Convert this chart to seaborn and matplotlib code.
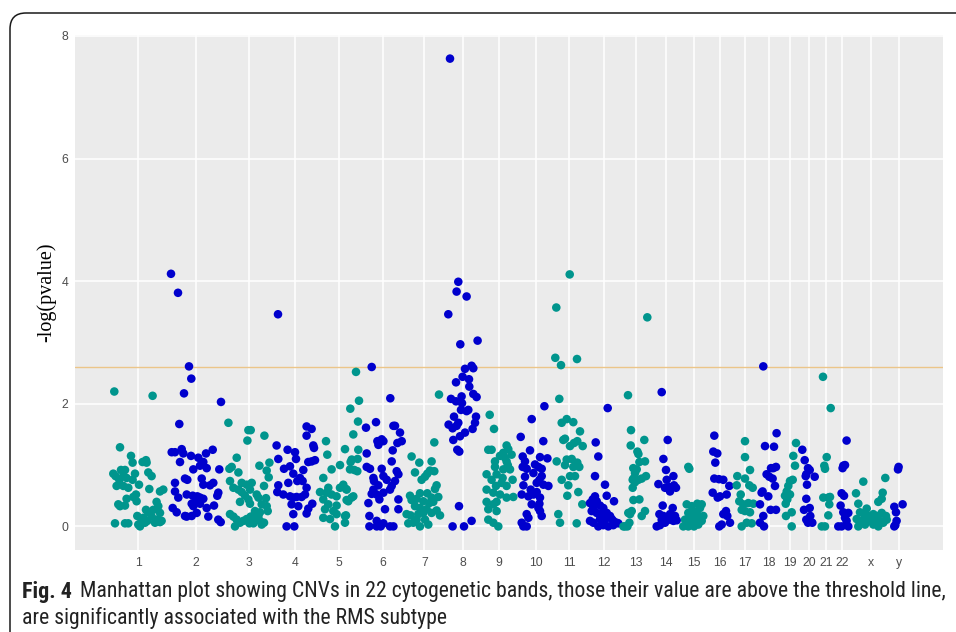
import matplotlib
matplotlib.use("Agg")
import matplotlib.pyplot as plt
import seaborn as sns
import pandas as pd
from matplotlib import font_manager
from matplotlib.patches import FancyBboxPatch

# ---------------- data ----------------
chrom_labels = ['1', '2', '3', '4', '5', '6', '7', '8', '9', '10', '11', '12',
                '13', '14', '15', '16', '17', '18', '19', '20', '21', '22', 'x', 'y']
# cumulative genomic position of each band centre (arbitrary units)
chrom_centers = [63.3, 121.0, 173.7, 220.3, 264.3, 307.7, 349.3, 388.3, 424.3, 460.7,
                 494.0, 529.0, 560.7, 590.7, 619.0, 645.0, 670.0, 694.3, 715.0, 734.0,
                 751.0, 767.3, 796.0, 824.3]
threshold = 2.6

# (offset from band centre, -log(pvalue))
chr1 = [(-24, 2.2), (14.3, 2.13), (-18.3, 1.29), (-7.3, 1.15), (7.7, 1.08), (8.3, 1.04), (-5.7, 1.04), (4.3, 1.05),
        (-25, .86), (-22.7, .82), (-17.3, .92), (-13.3, .92), (-15, .82), (-3.3, .86), (-19, .76), (-11.7, .79),
        (-5.7, .76), (10, .88), (13.3, .82), (-21.7, .66), (-15, .66), (-10, .63), (0.7, .68), (11, .61), (25, .60),
        (21.7, .57), (-2.3, .52), (-5, .48), (-11.7, .45), (-20, .36), (-18.3, .33), (-13.3, .34), (-1.7, .41),
        (18.3, .40), (20, .33), (7.7, .27), (10, .23), (15, .27), (21.7, .22), (-1, .17), (5, .14), (13.3, .16),
        (18.3, .11), (23.3, .09), (3.3, .10), (9, .09), (16.7, .06), (21.7, .07), (-23.3, .05), (-13.3, .05),
        (-10, .05), (0, .03), (1.7, 0), (6.7, .06)]
chr2 = [(-25, 4.12), (-18, 3.81), (-7, 2.61), (-4.7, 2.41), (-12, 2.17), (25, 2.03), (-16.7, 1.67),
        (-24.3, 1.21), (-21, 1.21), (-14.3, 1.26), (-12.7, 1.19), (-5, 1.15), (2.3, 1.12), (10, 1.19), (16.7, 1.25),
        (-16, 1.05), (7.3, 1.05), (4, .99), (-2.7, .93), (10.7, .95), (23.3, .93), (-21, .71), (-11, .78),
        (-8.7, .76), (5.7, .78), (7.3, .68), (17.3, .71), (14, .67), (22.3, .55), (21.3, .50), (-21, .57),
        (-17.7, .47), (-9.3, .52), (-3.3, .50), (1.3, .49), (4, .47), (7.3, .45), (0, .41), (-4.3, .37),
        (-2.7, .33), (4, .37), (10.7, .30), (18, .34), (-23.3, .30), (-19.3, .23), (-11, .17), (-9.3, .16),
        (-4.3, .17), (0.7, .22), (12.3, .16), (22.3, .11), (24.7, .07)]
chr3 = [(-20.3, 1.69), (-0.3, 1.57), (2, 1.57), (-1.3, 1.40), (15.7, 1.48), (20.7, 1.04), (10.7, .99), (-12, 1.12),
        (-19.3, .94), (-17, .97), (18, .91), (20, .80), (-10.3, .88), (-18.7, .74), (-7, .71), (-2, .68), (3, .71),
        (15.3, .66), (-15.3, .63), (-10.3, .60), (-7, .56), (1.3, .60), (8, .52), (-3.7, .50), (-0.3, .44),
        (9.7, .47), (17.3, .46), (-8.7, .40), (1.3, .37), (13, .36), (18, .33), (19, .25), (-18.7, .20),
        (-15.3, .16), (-12, .11), (-8.7, .06), (-13.7, 0), (-2, .12), (2, .16), (6.3, .20), (8, .11), (11.3, .09),
        (13, .03), (15.3, .06), (4.7, .05), (9.7, .17), (-5.3, .09), (0.7, .05), (11.3, .23), (6.3, .25)]
chr4 = [(-17.3, 3.46), (-18.7, 1.32), (-17, 1.10), (-7.7, 1.25), (-0.3, 1.21), (0.7, 1.10), (11.3, 1.63),
        (16.3, 1.59), (11.3, 1.48), (18, 1.32), (18.7, 1.28), (19.7, 1.08), (16.3, 1.06), (13, 1.05), (8, .92),
        (-11.3, .94), (-5.3, .98), (-2, .86), (4.7, .79), (2, .74), (7.3, .74), (11.3, .63), (-17, .67), (-7, .71),
        (-18, .56), (-12, .52), (-5.3, .49), (-2, .47), (1.3, .48), (6.3, .48), (9.7, .52), (-3.7, .36), (3, .33),
        (13, .29), (11.3, .21), (-2, .20), (-8.7, 0), (-1, 0), (17, .37)]
chr5 = [(16.7, 2.52), (19.7, 2.05), (11, 1.92), (18.7, 1.71), (14, 1.50), (-13.3, 1.39), (-12, 1.17), (5.7, 1.26),
        (11.3, 1.05), (18.3, 1.10), (19, 1.25), (12.4, 1.09), (-16, .79), (-7.7, .93), (0.7, 1.0), (10.7, .93),
        (15, .92), (18, .90), (-11, .63), (-12.7, .55), (-7.7, .52), (-2.7, .49), (0.7, .63), (4, .68), (6.7, .61),
        (7.4, .60), (-19.3, .56), (-16, .44), (-11, .36), (-2.7, .34), (7.3, .43), (12.3, .47), (14, .49), (9, .41),
        (-14.3, .28), (-6, .25), (-2.7, .20), (6.7, .18), (5.7, .17), (-16, .14), (-9.3, .12), (5.7, .06), (-4.3, 0)]
chr6 = [(-11, 2.6), (7.6, 2.09), (-16.7, 1.61), (12.3, 1.64), (-6.7, 1.70), (10.7, 1.64), (17.3, 1.53),
        (-1, 1.42), (0.7, 1.39), (-4.3, 1.33), (-5.3, 1.39), (19, 1.39), (14.7, 1.36), (-16, 1.19), (10, 1.24),
        (9, 1.06), (-16, .97), (-12.7, .94), (-1, .94), (14, .90), (15.7, .85), (-9.3, .79), (0.7, .82), (4, .76),
        (12.3, .74), (-8.7, .74), (-4.3, .67), (-9.3, .60), (-11, .53), (-6, .52), (0.7, .55), (7.3, .60), (9, .66),
        (-14.3, .38), (-3.3, .44), (15.7, .44), (2.3, .28), (15.7, .28), (-13.3, .17), (-6, .09), (-13.3, 0),
        (-6, 0), (-2, 0), (0.7, .05), (7.3, 0), (10.7, 0)]
chr7 = [(14.7, 2.15), (10, 1.37), (-12.7, 1.14), (-5, 1.04), (7.3, 1.06), (5.7, .91), (3, .86), (-9.3, .88),
        (10, .90), (0.7, .81), (-2.7, .76), (12.3, .67), (10.7, .61), (-14.3, .50), (-4.3, .54), (3, .54),
        (7.3, .47), (14, .48), (-7.7, .45), (-12.7, .43), (-1, .41), (5, .38), (9, .40), (-9.3, .33), (-4.3, .30),
        (2.3, .28), (12.3, .26), (-17.7, .20), (-13.7, .18), (-6, .20), (-1, .22), (7.3, .22), (15.7, .18),
        (-16, .05), (-11, .06), (-4.3, 0), (4, .03), (-7.7, .11), (0.7, .11)]
chr8 = [(-13.3, 7.63), (-5, 3.99), (-6.7, 3.83), (3.3, 3.75), (-15, 3.46), (-3, 2.97), (14.3, 3.03), (1.7, 2.57),
        (8.3, 2.62), (10, 2.58), (-0.7, 2.44), (5.7, 2.40), (-7.3, 2.35), (6, 2.28), (10, 2.16), (13.3, 2.11),
        (-12.3, 2.08), (-7.3, 2.04), (-1.7, 2.12), (-1.3, 2.01), (-2.3, 1.90), (5, 1.90), (12.7, 1.79), (-9.3, 1.79),
        (-14.7, 1.66), (-10.7, 1.60), (11.7, 1.69), (9.3, 1.59), (-10, 1.41), (-3.3, 1.47), (1.7, 1.53), (-6, 1.25),
        (-4, 1.22), (-6.7, 1.64), (-5, 1.69), (3.3, 1.88), (-4.3, .33), (8.3, .09), (-10.7, 0), (0.7, 0)]
chr9 = [(-9.6, 1.82), (-5.3, 1.59), (-11, 1.25), (-7.7, 1.25), (7.3, 1.32), (9, 1.26), (4, 1.20), (0.7, 1.15),
        (12.3, 1.17), (5.7, 1.12), (-4.3, 1.06), (7.3, 1.06), (-4.3, .97), (10.7, .93), (4, .93), (8.5, 1.0),
        (-12.7, .85), (-2.7, .85), (3.3, .79), (13.3, .76), (-7.7, .76), (2.3, .71), (7.3, .66), (-12.7, .60),
        (-3.3, .66), (-6, .55), (0.7, .52), (-2.7, .40), (-12.7, .40), (7.3, .47), (14, .48), (-6, .36), (-11, .28),
        (-2.7, .25), (-11, .11), (-6, .06), (-1, 0)]
chr10 = [(-15, 1.46), (-4, 1.75), (8.7, 1.96), (-5.7, 1.24), (-13, 1.14), (-10.7, 1.06), (4.3, 1.13), (11.7, 1.11),
         (-13, .97), (-9, .94), (-0.7, 1.01), (2.7, .97), (6, .94), (-2.3, .87), (6, .82), (3.7, .76), (-10.7, .81),
         (1, .71), (-12.3, .67), (7.7, .68), (12.7, .66), (-5, .60), (-2.3, .52), (-7.3, .49), (1, .56), (4.3, .47),
         (-4, .36), (3.7, .37), (-14, .52), (2.7, .30), (4.3, .25), (6, .17), (-9, .20), (-7.3, .14), (-14, .06),
         (-12.3, 0), (-9, 0), (7.6, 1.39)]
chr11 = [(0.7, 4.11), (-12.7, 3.57), (-13.7, 2.75), (-8, 2.63), (8, 2.73), (-9.7, 2.08), (-7.3, 1.69), (-2.3, 1.75),
         (4.3, 1.70), (11, 1.55), (-5.7, 1.41), (8.3, 1.39), (5, 1.36), (1, 1.31), (13.7, 1.31), (-12.3, 1.06),
         (-2.3, 1.09), (2.7, 1.10), (-4, 1.0), (4.3, .97), (10.3, .97), (8.3, 1.04), (-7.3, .76), (1, .82), (6, .82),
         (-0.7, .67), (9.3, .56), (-1.7, .50), (13.3, .36), (-10.7, .20), (-9, .06), (7.7, .05), (-4, 1.43)]
chr12 = [(3.7, 1.93), (-8.3, 1.37), (-5.7, 1.14), (-9, .82), (1, .68), (2.7, .50), (10, .41), (-9, .49),
         (-11.3, .44), (-14, .38), (-7.3, .41), (-4, .34), (-10.7, .31), (-0.7, .30), (-12.3, .25), (-7.3, .22),
         (-2.3, .20), (2.7, .22), (6, .17), (-4, .12), (1, .11), (7.7, .12), (9.3, .09), (12.7, .06), (-14, .09),
         (-10.7, .06), (-5.7, 0), (-0.7, .02), (4.3, 0), (9.3, .02), (14.3, .05)]
chr13 = [(11.6, 3.41), (-7.7, 2.14), (-4.7, 1.57), (8.6, 1.41), (-5, 1.32), (1.7, 1.22), (2.7, 1.18), (9.3, 1.06),
         (3.7, 1.05), (1, .93), (-0.7, .87), (-2.3, .78), (6, .78), (10.3, .82), (-3, .63), (-0.7, .72), (2.7, .76),
         (-2.3, .43), (3.7, .44), (-4, .25), (-5.7, .20), (9.3, .25), (6, .17), (-12.3, 0), (-8.3, 0), (-6.3, .06),
         (-2.4, .95), (-3, .76), (-7.4, .22), (-10.7, 0)]
chr14 = [(-4, 2.19), (2, 1.41), (-2.3, 1.10), (0.3, .92), (7.7, .82), (1, .76), (-7.3, .69), (-0.7, .63), (3.7, .64),
         (8.3, .67), (10.3, .63), (4.3, .57), (-3, .34), (7, .30), (-6.3, .20), (-2.3, .17), (4.3, .20), (9.3, .17),
         (1, .14), (-4, .11), (-9, 0), (-5.7, .02), (-0.7, .06), (4.3, .11), (7.7, .09), (11, .10)]
chr15 = [(-5.7, .97), (-4.7, .94), (-7.3, .36), (-2.3, .33), (3.3, .37), (7.7, .36), (6, .30), (-0.7, .25),
         (-5.7, .22), (2.7, .22), (9.3, .17), (-2.3, .17), (-9, .11), (1, .12), (6, .11), (-4, .06), (4.3, .03),
         (-10.7, 0), (-5.7, 0), (0, 0), (7.7, .09)]
chr16 = [(-5.7, 1.48), (-6.7, 1.22), (-2.7, 1.19), (-4.7, 1.04), (-5.7, .78), (-1, .77), (3.3, .76), (9.3, .66),
         (-7.3, .55), (-2.3, .47), (0, .49), (6.7, .52), (6, .25), (3.3, .20), (7.3, .17), (10, .06), (-0.7, 0),
         (1.7, .03)]
chr17 = [(0, 1.39), (0, 1.13), (5, .92), (-7.7, .82), (0, .78), (4.3, .67), (-8.3, .67), (7.7, .63), (-4.3, .52),
         (-5.7, .41), (-1.7, .36), (3.3, .38), (8.3, .37), (0, .25), (5, .23), (-3.3, .27), (1.7, .06), (6.7, .05),
         (-3.3, 0)]
chr18 = [(-6, 2.61), (7.3, 1.52), (-4.3, 1.31), (4.7, 1.30), (4, .95), (6.7, .97), (1.7, .95), (-2.7, .85), (0, .81),
         (3.3, .78), (5.7, .66), (-6.7, .57), (-7.7, .55), (-1, .49), (-9.3, .36), (1.3, .27), (6.7, .27), (-6, .17),
         (-9.3, .06), (-5.3, 0)]
chr19 = [(6, 1.36), (3.3, 1.15), (5, .99), (2.7, .76), (0, .74), (-1.7, .66), (-3.3, .57), (-5, .50), (0, .52),
         (-2.7, .44), (-4.3, .37), (1.7, .23), (-4, .17), (1.7, 0)]
chr20 = [(-6.7, 1.25), (-4.3, 1.08), (-1, .95), (0.7, .92), (-2.7, .85), (-3.3, .82), (5.7, .81), (-2, .68),
         (-2.7, .45), (-5, .27), (0.7, .30), (1.3, .17), (-1, .06), (-2.7, .11), (3.3, .06)]
chr21 = [(-3, 2.44), (4.7, 1.93), (0.7, 1.13), (-1.7, .99), (-1, .94), (-2.7, .47), (2.3, .47), (4, .48),
         (3.3, .36), (2.3, .18), (-4.3, 0), (-1, 0)]
chr22 = [(4.3, 1.40), (1, .99), (0.3, .95), (2.7, 1.0), (-0.7, .54), (1.7, .50), (-1.7, .34), (1, .23), (6, .22),
         (2.7, .14), (4.3, .09), (-0.7, 0), (-4, 0), (6, 0)]
chrx = [(-7.7, .73), (14.3, .79), (-15, .54), (11.7, .55), (10.7, .45), (7.3, .40), (-12.7, .37), (-4.3, .29),
        (-11, .23), (-7, .20), (-2.7, .17), (2.3, .20), (5.7, .17), (10.7, .22), (15, .17), (-14.3, .12), (-9.3, .09),
        (-4.3, .11), (-1, .09), (0.7, .12), (4, .11), (9, .09), (12.3, .06), (15.7, .11), (-12.7, 0), (-6, .03),
        (2.3, .03), (7.3, 0)]
chry = [(-0.7, .97), (-1.3, .93), (-5, .32), (3.3, .36), (-3.3, .23), (-2.7, .09), (-4, .02), (-5, 0)]

band_points = [chr1, chr2, chr3, chr4, chr5, chr6, chr7, chr8, chr9, chr10, chr11, chr12,
               chr13, chr14, chr15, chr16, chr17, chr18, chr19, chr20, chr21, chr22, chrx, chry]

caption_bold = 'Fig. 4'
caption_line1 = 'Manhattan plot showing CNVs in 22 cytogenetic bands, those their value are above the threshold line,'
caption_line2 = 'are significantly associated with the RMS subtype'

rows = []
for i, (lab, cen, pts) in enumerate(zip(chrom_labels, chrom_centers, band_points)):
    for off, val in pts:
        rows.append({'chrom': lab, 'pos': cen + off, 'value': val,
                     'group': 'odd' if i % 2 == 0 else 'even'})
df = pd.DataFrame(rows)

# ---------------- fonts ----------------
teal = '#00958D'
blue = '#0000CD'
flist = font_manager.fontManager.ttflist
names = {f.name for f in flist}
sans = 'Liberation Sans' if 'Liberation Sans' in names else 'DejaVu Sans'
serif = 'Liberation Serif' if 'Liberation Serif' in names else 'DejaVu Serif'


def has_regular(name, stretch=None):
    for f in flist:
        if f.name == name and f.style == 'normal' and f.weight in (400, 'normal', 'regular', 'book'):
            if stretch is None or f.stretch == stretch:
                return True
    return False


def has_bold(name):
    return any(f.name == name and f.weight in (600, 700, 'bold', 'semibold', 'demibold') for f in flist)


cap_font, cap_stretch = None, 'normal'
for cand in ['Liberation Sans Narrow', 'Roboto Condensed', 'Open Sans Condensed', 'Noto Sans Condensed']:
    if has_regular(cand):
        cap_font = cand
        break
if cap_font is None and has_regular('DejaVu Sans', 'condensed'):
    cap_font, cap_stretch = 'DejaVu Sans', 'condensed'
if cap_font is None:
    cap_font = 'Open Sans' if 'Open Sans' in names else sans

bold_font, bold_stretch = cap_font, cap_stretch
if cap_font in ('Open Sans', sans):
    for cand in ['Open Sans Condensed', 'Roboto Condensed', 'Liberation Sans Narrow']:
        if has_bold(cand):
            bold_font, bold_stretch = cand, 'normal'
            break

sns.set_style('white')
plt.rcParams['font.family'] = [sans, 'DejaVu Sans']

# ---------------- plot ----------------
fig = plt.figure(figsize=(9.56, 6.32), dpi=100)
fig.patch.set_facecolor('white')
ax = fig.add_axes([75 / 956, 1 - 550 / 632, 868 / 956, 515 / 632])

sns.scatterplot(data=df, x='pos', y='value', hue='group', palette={'odd': teal, 'even': blue},
                s=38, linewidth=0, legend=False, ax=ax, zorder=3)
ax.axhline(threshold, color='#EBC589', lw=1.0, zorder=2)

ax.set_xlim(0, 868)
ax.set_ylim(-0.385, 8.015)
ax.set_facecolor('#EBEBEB')
for sp in ax.spines.values():
    sp.set_visible(False)
ax.set_xticks(chrom_centers)
ax.set_xticklabels(chrom_labels)
ax.set_yticks([0, 2, 4, 6, 8])
ax.set_yticklabels(['0', '2', '4', '6', '8'])
ax.grid(True, color='white', lw=1.1)
ax.set_axisbelow(True)
ax.tick_params(axis='both', length=3, width=0.8, color='#333333', labelcolor='#4D4D4D',
               labelsize=8.8, pad=2)
ax.set_xlabel('')
ax.set_ylabel('-log(pvalue)', family=serif, fontsize=14.5, color='black')
ax.yaxis.set_label_coords(-0.022, 0.5)

# frame of the journal figure
frame = FancyBboxPatch((0.10, -0.5), 12.0, 6.19 + 0.5, boxstyle='round,pad=0,rounding_size=0.16',
                       transform=fig.dpi_scale_trans, fill=False, ec='#1a1a1a', lw=1.1)
fig.patches.append(frame)

# caption, sized so that the first line ends where the reference's does
fig.canvas.draw()
r = fig.canvas.get_renderer()
W = fig.bbox.width
cap_size = 13.0
t1 = fig.text(22 / 956, 1 - 592 / 632, caption_bold, family=bold_font, fontstretch=bold_stretch,
              weight='bold', fontsize=14.5, va='center', ha='left', color='#222222')
t2 = fig.text(80 / 956, 1 - 592 / 632, caption_line1, family=cap_font, fontstretch=cap_stretch,
              weight='normal', fontsize=cap_size, va='center', ha='left', color='#222222')
for _ in range(4):
    b2 = t2.get_window_extent(renderer=r)
    cap_size = cap_size * (946.0 - b2.x0) / (b2.x1 - b2.x0)
    t2.set_fontsize(cap_size)
# bold label sized to span about 50 px like the reference
for _ in range(3):
    b1 = t1.get_window_extent(renderer=r)
    t1.set_fontsize(t1.get_fontsize() * 50.0 / (b1.x1 - b1.x0))
fig.text(22 / 956, 1 - 618 / 632, caption_line2, family=cap_font, fontstretch=cap_stretch,
         weight='normal', fontsize=cap_size, va='center', ha='left', color='#222222')

fig.savefig('out.png', dpi=100)
